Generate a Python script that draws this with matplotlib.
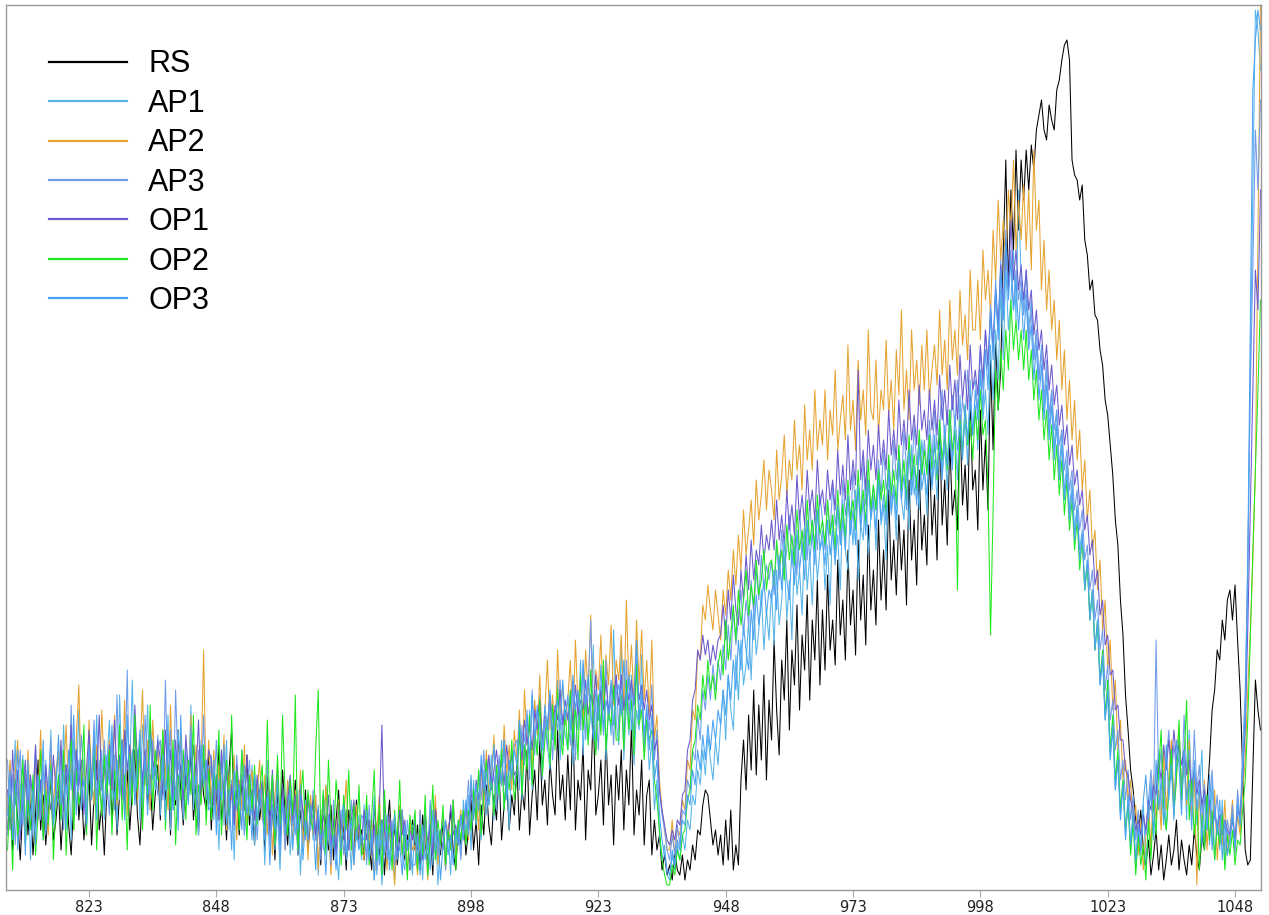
import matplotlib
matplotlib.use('Agg')
import matplotlib.pyplot as plt
import numpy as np

x_start = 807
x_end = 1053
x_step = 0.5
x_ticks = [823, 848, 873, 898, 923, 948, 973, 998, 1023, 1048]

# heights, two values per unit of x (807 .. 1053)
rs = [60, 95, 40, 110, 70, 30, 85, 120, 55, 90, 35, 75, 130, 60, 95, 45, 80, 110, 50, 70,
      100, 40, 85, 125, 65, 35, 90, 140, 70, 105, 50, 80, 115, 45, 95, 130, 60, 85, 35, 100,
      135, 70, 110, 55, 95, 150, 80, 120, 60, 100, 140, 75, 45, 105, 130, 85, 115, 60, 95, 125,
      70, 150, 90, 115, 55, 130, 85, 160, 100, 65, 120, 90, 140, 70, 105, 55, 125, 95, 80, 135,
      60, 110, 85, 145, 70, 95, 50, 120, 160, 75, 100, 55, 115, 80, 135, 65, 90, 45, 105, 70,
      95, 40, 115, 70, 85, 30, 100, 60, 120, 75, 45, 95, 65, 110, 35, 80, 55, 100, 40, 70,
      90, 50, 75, 25, 95, 60, 40, 85, 30, 70, 100, 45, 65, 20, 80, 55, 35, 90, 50, 60,
      30, 75, 45, 20, 85, 55, 35, 70, 15, 60, 90, 40, 65, 25, 50, 80, 30, 55, 20, 70,
      40, 65, 20, 75, 45, 30, 60, 15, 85, 50, 35, 70, 25, 55, 80, 40, 20, 65, 45, 75,
      35, 60, 90, 40, 70, 25, 85, 55, 105, 65, 45, 95, 70, 120, 50, 85, 110, 60, 95, 75,
      125, 60, 100, 80, 140, 55, 95, 120, 70, 150, 85, 110, 65, 130, 95, 75, 160, 90, 115, 70,
      135, 80, 170, 60, 110, 90, 145, 50, 120, 100, 180, 75, 95, 130, 65, 155, 85, 115, 45, 125,
      90, 140, 60, 120, 85, 165, 55, 100, 75, 130, 45, 95, 110, 35, 70, 40, 55, 20, 35, 15,
      25, 10, 40, 20, 15, 35, 10, 30, 20, 45, 30, 60, 55, 85, 100, 95, 70, 45, 60, 35,
      55, 25, 70, 30, 80, 20, 45, 25, 110, 150, 100, 175, 120, 200, 115, 185, 130, 215, 110, 190,
      150, 250, 180, 135, 230, 190, 270, 160, 240, 205, 285, 180, 255, 220, 295, 190, 270, 230, 310, 205,
      280, 220, 315, 240, 270, 225, 330, 255, 290, 230, 340, 265, 300, 235, 350, 270, 315, 245, 365, 280,
      320, 265, 370, 290, 340, 280, 400, 310, 350, 295, 375, 320, 360, 285, 410, 330, 370, 305, 420, 340,
      375, 325, 440, 355, 395, 330, 465, 365, 410, 345, 450, 375, 400, 360, 475, 385, 425, 370, 495, 400,
      420, 360, 480, 400, 450, 380, 530, 440, 555, 480, 520, 640, 730, 600, 700, 640, 740, 660, 730, 690,
      740, 700, 745, 720, 760, 775, 790, 760, 750, 785, 770, 760, 800, 810, 830, 845, 850, 830, 730, 715,
      710, 690, 705, 650, 635, 600, 610, 575, 570, 540, 525, 490, 475, 445, 415, 370, 345, 290, 255, 195,
      160, 120, 100, 70, 55, 80, 40, 25, 50, 15, 35, 60, 20, 45, 10, 30, 55, 25, 40, 70,
      20, 50, 30, 15, 45, 25, 60, 35, 20, 55, 40, 90, 130, 180, 200, 240, 230, 270, 250, 290,
      300, 270, 305, 250, 200, 120, 40, 25, 30, 120, 210, 180, 160]

ap1 = [55, 125, 70, 150, 40, 100, 135, 60, 115, 30, 90, 145, 75, 110, 50, 130, 85, 160, 65, 105,
       140, 70, 165, 95, 120, 50, 150, 105, 180, 80, 130, 60, 155, 110, 85, 175, 95, 140, 70, 125,
       170, 90, 135, 60, 195, 110, 150, 85, 125, 210, 95, 140, 70, 165, 115, 185, 80, 130, 100, 155,
       75, 140, 100, 175, 60, 125, 90, 160, 115, 70, 145, 95, 185, 80, 120, 55, 150, 105, 130, 85,
       135, 70, 115, 40, 130, 95, 150, 60, 105, 30, 120, 85, 140, 55, 100, 75, 125, 45, 110, 80,
       100, 25, 90, 60, 115, 40, 75, 20, 95, 65, 110, 35, 80, 55, 100, 15, 70, 90, 45, 85,
       50, 95, 15, 70, 40, 105, 55, 25, 80, 45, 10, 65, 90, 35, 60, 20, 85, 50, 75, 30,
       85, 25, 70, 40, 95, 15, 60, 5, 50, 75, 30, 65, 10, 55, 80, 35, 20, 70, 45, 15,
       70, 20, 55, 10, 80, 40, 90, 25, 65, 5, 50, 75, 30, 60, 15, 85, 45, 70, 35, 90,
       55, 95, 40, 110, 65, 85, 50, 120, 75, 100, 135, 70, 115, 90, 150, 80, 125, 60, 140, 105,
       120, 165, 90, 145, 125, 180, 100, 160, 135, 195, 110, 170, 145, 120, 185, 150, 210, 130, 175, 155,
       140, 200, 125, 180, 160, 230, 135, 195, 150, 175, 245, 140, 190, 165, 215, 130, 185, 155, 260, 170,
       145, 250, 130, 190, 155, 215, 125, 180, 160, 235, 140, 170, 120, 150, 80, 110, 55, 30, 45, 15,
       10, 35, 20, 45, 30, 55, 40, 70, 60, 95, 85, 120, 105, 140, 115, 155, 130, 110, 150, 125,
       165, 200, 150, 215, 180, 160, 235, 190, 250, 205, 225, 270, 210, 285, 235, 260, 300, 240, 280, 250,
       300, 245, 320, 265, 290, 335, 270, 310, 250, 345, 295, 320, 275, 360, 300, 335, 285, 355, 310, 340,
       360, 300, 345, 285, 375, 330, 355, 300, 390, 340, 320, 380, 345, 400, 310, 365, 350, 410, 335, 375,
       395, 340, 420, 365, 385, 330, 430, 375, 400, 350, 440, 390, 370, 425, 360, 445, 395, 415, 380, 450,
       420, 375, 455, 400, 430, 390, 470, 415, 445, 400, 480, 430, 460, 410, 495, 440, 470, 425, 510, 455,
       485, 440, 520, 470, 500, 455, 545, 490, 560, 510, 600, 530, 625, 560, 590, 640, 570, 700, 610, 580,
       620, 560, 590, 530, 560, 510, 545, 480, 520, 460, 500, 440, 480, 420, 460, 395, 430, 380, 410, 360,
       385, 340, 360, 300, 330, 270, 300, 240, 265, 205, 230, 170, 195, 135, 160, 100, 130, 75, 110, 55,
       90, 40, 75, 20, 60, 35, 85, 25, 70, 110, 50, 95, 140, 75, 120, 60, 100, 135, 80, 115,
       150, 90, 130, 70, 160, 100, 120, 65, 95, 140, 55, 85, 45, 110, 30, 70, 40, 90, 25, 60,
       45, 80, 35, 95, 60, 130, 180, 310, 520, 700, 880, 860, 820]

ap2 = [80, 130, 60, 115, 150, 75, 105, 45, 140, 90, 65, 125, 95, 160, 70, 110, 55, 135, 85, 120,
       140, 80, 115, 165, 90, 130, 60, 150, 205, 100, 125, 75, 170, 110, 85, 145, 95, 180, 120, 90,
       150, 100, 175, 85, 130, 110, 190, 75, 145, 120, 165, 90, 135, 200, 105, 150, 80, 170, 115, 140,
       95, 160, 120, 80, 185, 105, 140, 70, 155, 110, 130, 90, 175, 100, 145, 75, 120, 240, 95, 150,
       85, 140, 70, 125, 95, 155, 60, 115, 90, 135, 50, 110, 80, 145, 65, 100, 120, 70, 95, 130,
       70, 115, 55, 100, 35, 95, 125, 60, 90, 40, 110, 75, 50, 100, 65, 120, 45, 85, 30, 95,
       55, 95, 20, 80, 45, 105, 65, 15, 75, 50, 90, 35, 70, 110, 40, 60, 25, 85, 55, 45,
       30, 85, 50, 70, 10, 60, 95, 40, 65, 20, 75, 45, 5, 55, 85, 35, 60, 15, 70, 40,
       45, 15, 80, 35, 60, 10, 70, 40, 95, 25, 55, 75, 20, 65, 45, 90, 30, 60, 80, 50,
       85, 50, 110, 70, 95, 60, 125, 80, 140, 95, 110, 155, 90, 130, 105, 165, 115, 145, 100, 160,
       130, 180, 115, 200, 145, 170, 120, 190, 155, 215, 140, 180, 230, 160, 195, 150, 240, 175, 205, 165,
       190, 230, 160, 250, 185, 210, 165, 240, 195, 275, 175, 220, 200, 255, 180, 235, 205, 265, 185, 230,
       210, 255, 180, 290, 200, 245, 185, 270, 205, 260, 190, 230, 175, 250, 150, 175, 110, 80, 60, 40,
       40, 70, 35, 60, 55, 90, 80, 130, 120, 180, 170, 240, 230, 285, 270, 305, 280, 260, 300, 275,
       250, 300, 275, 320, 290, 340, 305, 355, 320, 380, 335, 360, 390, 345, 410, 370, 395, 430, 380, 420,
       400, 370, 440, 390, 415, 455, 395, 430, 410, 470, 420, 445, 400, 485, 430, 460, 420, 500, 440, 470,
       445, 500, 430, 480, 455, 520, 440, 470, 495, 450, 545, 460, 490, 440, 530, 470, 500, 455, 560, 480,
       470, 530, 455, 500, 480, 550, 475, 510, 460, 540, 495, 580, 480, 520, 470, 560, 500, 530, 485, 545,
       500, 560, 490, 520, 545, 505, 580, 515, 550, 500, 590, 530, 560, 515, 600, 545, 575, 530, 620, 560,
       560, 610, 550, 640, 590, 620, 575, 660, 610, 690, 630, 670, 620, 700, 660, 730, 640, 690, 650, 705,
       640, 700, 620, 740, 660, 690, 600, 650, 580, 620, 560, 590, 530, 570, 500, 540, 470, 510, 450, 490,
       430, 460, 400, 430, 370, 400, 340, 360, 300, 330, 260, 290, 220, 250, 180, 210, 140, 170, 110, 130,
       90, 110, 60, 85, 35, 70, 20, 55, 90, 40, 115, 70, 100, 60, 140, 80, 115, 150, 90, 125,
       165, 100, 140, 85, 150, 70, 120, 5, 95, 60, 110, 40, 85, 55, 100, 30, 70, 45, 90, 35,
       60, 90, 40, 75, 55, 100, 130, 200, 260, 330, 420, 650, 885]

ap3 = [130, 70, 115, 45, 100, 140, 65, 120, 80, 110, 55, 135, 90, 70, 125, 60, 105, 150, 75, 100,
       85, 140, 60, 125, 90, 185, 70, 135, 100, 155, 115, 80, 145, 105, 170, 90, 130, 75, 150, 110,
       75, 155, 110, 195, 90, 140, 100, 220, 85, 130, 160, 105, 145, 80, 175, 120, 95, 150, 115, 140,
       150, 90, 210, 100, 160, 80, 200, 120, 145, 75, 130, 95, 165, 110, 85, 140, 100, 175, 90, 125,
       120, 95, 150, 70, 140, 65, 125, 80, 110, 60, 135, 90, 115, 55, 100, 130, 75, 105, 50, 95,
       105, 70, 130, 45, 100, 60, 120, 55, 95, 40, 85, 110, 65, 90, 35, 105, 75, 50, 95, 60,
       100, 50, 85, 30, 95, 45, 75, 25, 90, 40, 65, 80, 35, 70, 55, 90, 30, 60, 45, 75,
       70, 30, 85, 45, 60, 20, 75, 40, 90, 30, 55, 70, 25, 60, 40, 80, 35, 50, 20, 65,
       60, 25, 80, 40, 65, 15, 85, 45, 75, 35, 55, 70, 20, 60, 40, 90, 50, 65, 30, 75,
       75, 110, 60, 95, 70, 120, 90, 140, 85, 130, 100, 115, 80, 135, 105, 150, 95, 125, 110, 145,
       150, 100, 165, 125, 180, 110, 200, 135, 185, 150, 125, 170, 140, 195, 130, 175, 160, 210, 145, 180,
       175, 145, 210, 130, 195, 160, 225, 150, 200, 270, 165, 185, 140, 205, 155, 230, 170, 190, 145, 215,
       160, 215, 140, 230, 175, 200, 150, 240, 165, 195, 145, 180, 160, 205, 130, 160, 100, 75, 60, 40,
       30, 55, 35, 65, 45, 80, 75, 110, 100, 140, 130, 175, 150, 200, 180, 215, 190, 225, 200, 230,
       210, 245, 220, 265, 230, 280, 245, 270, 300, 255, 290, 265, 310, 275, 320, 290, 335, 300, 325, 310,
       330, 295, 345, 310, 360, 320, 340, 375, 325, 355, 315, 380, 340, 365, 330, 390, 350, 375, 340, 395,
       370, 340, 390, 355, 405, 365, 385, 350, 410, 375, 395, 360, 420, 380, 400, 365, 430, 385, 410, 375,
       405, 380, 430, 395, 440, 400, 420, 390, 450, 410, 435, 400, 460, 420, 445, 405, 465, 425, 450, 415,
       450, 420, 470, 430, 480, 440, 465, 500, 445, 480, 455, 495, 465, 510, 460, 490, 470, 520, 480, 500,
       510, 480, 540, 500, 560, 520, 585, 540, 610, 560, 630, 570, 660, 600, 640, 580, 620, 590, 610, 575,
       600, 550, 580, 530, 560, 510, 540, 490, 530, 475, 500, 460, 480, 445, 460, 420, 440, 400, 420, 380,
       400, 360, 380, 330, 345, 300, 320, 270, 290, 240, 260, 200, 225, 170, 190, 140, 160, 110, 130, 90,
       120, 70, 95, 50, 80, 40, 75, 55, 90, 120, 85, 250, 110, 140, 95, 130, 160, 110, 145, 120,
       150, 100, 175, 120, 140, 85, 160, 100, 125, 75, 105, 60, 90, 120, 70, 95, 50, 80, 40, 70,
       55, 85, 45, 100, 70, 140, 200, 330, 500, 620, 760, 700, 790]

op1 = [100, 60, 140, 85, 120, 50, 105, 130, 75, 115, 90, 145, 70, 110, 55, 125, 95, 80, 135, 100,
       95, 150, 80, 125, 110, 165, 90, 140, 105, 130, 75, 120, 160, 95, 135, 110, 175, 100, 125, 90,
       145, 100, 170, 115, 135, 90, 160, 120, 145, 100, 185, 125, 150, 110, 140, 95, 165, 130, 115, 150,
       130, 95, 160, 110, 140, 85, 150, 105, 125, 90, 155, 120, 100, 145, 115, 170, 95, 130, 110, 140,
       130, 85, 115, 70, 140, 90, 120, 75, 105, 65, 125, 95, 110, 80, 135, 90, 100, 70, 115, 85,
       110, 75, 95, 60, 120, 70, 85, 50, 105, 65, 90, 115, 70, 95, 55, 100, 80, 60, 90, 70,
       90, 55, 80, 40, 75, 60, 95, 45, 70, 35, 85, 65, 50, 80, 40, 70, 90, 55, 65, 45,
       80, 50, 70, 35, 65, 45, 80, 165, 60, 40, 75, 50, 65, 35, 80, 55, 70, 40, 60, 50,
       70, 40, 60, 30, 75, 45, 65, 35, 80, 50, 60, 40, 70, 50, 85, 55, 65, 45, 75, 60,
       85, 60, 100, 75, 110, 90, 125, 95, 115, 135, 100, 120, 140, 110, 130, 105, 145, 120, 135, 115,
       120, 155, 130, 170, 145, 165, 140, 180, 160, 190, 150, 175, 165, 195, 155, 185, 170, 200, 165, 190,
       170, 195, 165, 205, 175, 190, 180, 210, 175, 195, 185, 215, 170, 200, 180, 210, 175, 205, 190, 215,
       185, 215, 180, 205, 190, 210, 185, 220, 190, 205, 180, 200, 170, 185, 140, 150, 100, 80, 65, 50,
       45, 60, 50, 70, 65, 95, 100, 140, 150, 190, 200, 240, 230, 255, 235, 250, 225, 245, 230, 250,
       255, 285, 250, 300, 270, 315, 280, 265, 320, 290, 335, 300, 350, 310, 340, 325, 365, 330, 355, 340,
       370, 340, 390, 350, 375, 345, 400, 360, 385, 355, 415, 370, 395, 365, 420, 380, 400, 370, 430, 385,
       400, 375, 420, 390, 410, 380, 440, 395, 425, 390, 455, 400, 430, 405, 520, 410, 440, 400, 460, 420,
       445, 410, 465, 425, 450, 420, 480, 435, 460, 430, 490, 445, 470, 440, 500, 450, 475, 445, 505, 460,
       480, 450, 500, 460, 490, 455, 515, 470, 500, 465, 525, 480, 510, 470, 535, 490, 520, 480, 545, 500,
       520, 495, 545, 510, 560, 525, 580, 540, 600, 560, 625, 580, 650, 600, 670, 610, 640, 600, 625, 590,
       620, 580, 600, 555, 580, 540, 560, 520, 545, 500, 525, 485, 505, 465, 485, 445, 465, 425, 445, 405,
       420, 385, 400, 360, 375, 335, 350, 305, 320, 275, 290, 245, 255, 215, 220, 180, 185, 150, 150, 120,
       115, 90, 80, 60, 70, 55, 75, 60, 90, 80, 105, 95, 130, 110, 145, 120, 150, 125, 160, 130,
       145, 125, 140, 115, 130, 100, 120, 95, 110, 85, 100, 75, 90, 65, 80, 60, 75, 55, 70, 60,
       55, 70, 50, 80, 75, 110, 160, 260, 380, 500, 620, 580, 700]

op2 = [40, 95, 20, 110, 55, 80, 130, 45, 90, 60, 115, 35, 75, 140, 50, 100, 65, 125, 30, 85,
       115, 70, 140, 35, 95, 150, 60, 120, 85, 105, 165, 55, 125, 90, 145, 40, 110, 75, 135, 95,
       140, 55, 120, 90, 165, 70, 115, 40, 135, 85, 175, 100, 150, 60, 125, 95, 185, 80, 140, 110,
       110, 160, 60, 125, 80, 150, 45, 115, 90, 140, 70, 130, 95, 175, 55, 105, 85, 145, 65, 120,
       70, 120, 100, 160, 55, 105, 130, 75, 175, 85, 120, 60, 140, 95, 50, 115, 80, 125, 65, 100,
       125, 60, 170, 80, 115, 45, 135, 65, 175, 95, 55, 110, 75, 195, 40, 90, 120, 55, 100, 70,
       60, 140, 200, 55, 100, 35, 130, 70, 45, 110, 80, 25, 95, 60, 120, 40, 85, 50, 105, 35,
       40, 95, 25, 75, 120, 30, 85, 15, 100, 50, 65, 20, 80, 45, 110, 35, 60, 10, 75, 55,
       80, 20, 65, 35, 95, 15, 50, 105, 30, 70, 45, 85, 25, 60, 40, 90, 20, 70, 50, 80,
       45, 80, 60, 100, 70, 120, 55, 95, 130, 85, 110, 75, 125, 95, 140, 80, 115, 100, 150, 90,
       110, 165, 95, 145, 120, 175, 105, 160, 135, 190, 115, 150, 170, 125, 185, 140, 200, 155, 135, 180,
       140, 200, 150, 185, 130, 215, 160, 190, 145, 220, 170, 135, 195, 155, 230, 140, 180, 165, 205, 150,
       150, 195, 140, 210, 160, 190, 135, 225, 165, 180, 130, 170, 150, 160, 110, 90, 60, 30, 15, 5,
       5, 25, 15, 40, 30, 55, 60, 90, 100, 140, 150, 185, 170, 215, 190, 230, 200, 215, 190, 225,
       240, 215, 270, 230, 255, 285, 250, 300, 265, 290, 320, 275, 305, 285, 330, 295, 310, 340, 300, 325,
       330, 305, 350, 320, 340, 310, 365, 330, 355, 325, 380, 340, 360, 330, 390, 345, 370, 340, 395, 355,
       370, 345, 390, 355, 375, 340, 400, 360, 385, 350, 410, 370, 390, 360, 420, 375, 400, 365, 430, 380,
       405, 380, 420, 390, 410, 375, 435, 395, 420, 385, 445, 400, 430, 390, 455, 410, 435, 400, 460, 415,
       440, 415, 455, 420, 445, 410, 470, 430, 455, 420, 480, 440, 460, 300, 470, 435, 485, 445, 470, 430,
       480, 450, 500, 455, 470, 400, 255, 380, 520, 480, 540, 500, 560, 520, 590, 540, 570, 530, 560, 520,
       560, 510, 540, 490, 520, 470, 500, 450, 480, 430, 465, 410, 445, 395, 430, 375, 410, 360, 390, 340,
       370, 320, 350, 300, 325, 270, 300, 240, 270, 210, 240, 175, 210, 140, 175, 110, 140, 80, 110, 60,
       85, 35, 70, 15, 55, 25, 45, 10, 70, 30, 90, 55, 120, 160, 80, 60, 100, 140, 75, 110,
       170, 90, 130, 190, 70, 110, 55, 90, 20, 75, 40, 95, 50, 80, 30, 65, 45, 75, 20, 55,
       35, 60, 25, 50, 45, 80, 110, 170, 250, 340, 420, 500, 590]

op3 = [75, 120, 50, 95, 140, 60, 105, 35, 130, 70, 100, 45, 115, 80, 150, 55, 90, 120, 65, 100,
       155, 85, 120, 60, 140, 100, 175, 75, 130, 95, 110, 65, 145, 90, 160, 70, 125, 105, 80, 135,
       105, 165, 80, 130, 95, 150, 70, 175, 100, 140, 85, 120, 160, 90, 135, 75, 155, 110, 125, 95,
       95, 135, 70, 155, 110, 80, 140, 60, 175, 100, 125, 85, 150, 95, 115, 70, 145, 105, 130, 80,
       85, 130, 55, 110, 90, 145, 65, 100, 40, 120, 80, 105, 60, 125, 75, 95, 50, 115, 70, 100,
       80, 50, 95, 25, 85, 60, 110, 35, 90, 55, 75, 100, 40, 80, 60, 95, 30, 70, 50, 85,
       70, 20, 80, 45, 60, 15, 75, 35, 55, 20, 65, 40, 85, 30, 50, 70, 25, 60, 40, 55,
       50, 80, 30, 60, 10, 55, 25, 70, 35, 60, 20, 50, 75, 30, 45, 15, 65, 40, 55, 25,
       25, 55, 15, 65, 30, 50, 20, 80, 40, 60, 10, 45, 70, 35, 55, 25, 60, 45, 75, 50,
       90, 55, 115, 70, 105, 80, 135, 100, 120, 85, 110, 145, 95, 125, 105, 150, 90, 130, 115, 140,
       125, 170, 140, 150, 175, 130, 195, 150, 180, 165, 140, 185, 160, 200, 150, 175, 190, 160, 210, 170,
       195, 160, 215, 180, 200, 170, 230, 185, 215, 180, 150, 200, 170, 225, 160, 190, 175, 210, 165, 195,
       205, 175, 230, 185, 215, 160, 195, 250, 170, 200, 155, 185, 140, 175, 110, 130, 75, 50, 35, 20,
       15, 40, 25, 50, 40, 70, 65, 95, 85, 120, 105, 140, 120, 155, 130, 165, 140, 170, 150, 180,
       165, 200, 175, 215, 190, 230, 200, 250, 220, 265, 240, 220, 280, 250, 295, 265, 285, 310, 275, 300,
       290, 320, 280, 335, 300, 350, 310, 290, 340, 305, 360, 320, 345, 310, 370, 330, 355, 325, 380, 340,
       350, 325, 370, 335, 360, 325, 385, 345, 370, 340, 395, 355, 380, 345, 405, 360, 390, 355, 410, 370,
       390, 360, 410, 370, 395, 365, 420, 380, 405, 370, 430, 390, 415, 380, 440, 395, 425, 385, 445, 400,
       420, 395, 440, 405, 455, 415, 445, 410, 465, 425, 455, 420, 475, 440, 465, 430, 485, 450, 490, 455,
       500, 470, 520, 480, 540, 500, 580, 530, 600, 550, 620, 570, 650, 590, 630, 580, 610, 560, 600, 550,
       590, 540, 565, 510, 545, 490, 525, 470, 505, 450, 485, 430, 465, 410, 445, 390, 420, 370, 400, 350,
       380, 330, 355, 300, 330, 270, 300, 240, 270, 205, 235, 170, 200, 130, 165, 100, 130, 70, 105, 50,
       95, 45, 80, 30, 65, 40, 90, 115, 70, 100, 55, 130, 80, 110, 65, 145, 90, 125, 70, 150,
       125, 75, 140, 90, 110, 60, 130, 80, 105, 45, 95, 60, 115, 40, 85, 55, 90, 30, 70, 35,
       50, 75, 40, 85, 65, 120, 170, 330, 560, 800, 850, 880, 860]

names = ['RS', 'AP1', 'AP2', 'AP3', 'OP1', 'OP2', 'OP3']
colors = ['#000000', '#56B4E9', '#E6A330', '#6F9BEA', '#6A5ACD', '#1EE81E', '#4AA2F2']
series = [rs, ap1, ap2, ap3, op1, op2, op3]

x = np.arange(x_start, x_end + x_step / 2, x_step)
for n, s in zip(names, series):
    if len(s) != len(x):
        print(n, len(s), len(x))

fig = plt.figure(figsize=(12.69, 9.15), dpi=100)
ax = fig.add_axes([6 / 1269, 25 / 915, 1255 / 1269, 885 / 915])

for name, y, c in zip(names, series, colors):
    ax.plot(x, y, color=c, lw=0.75, label=name)

ax.set_xlim(806.7, 1053.1)
ax.set_ylim(0, 885)
ax.set_xticks(x_ticks)
ax.set_yticks([])
ax.tick_params(axis='x', length=5, color='#aaaaaa', labelsize=10.5, labelcolor='#222222', pad=2)
for s in ax.spines.values():
    s.set_color('#999999')
    s.set_linewidth(1.0)

leg = ax.legend(loc='upper left', bbox_to_anchor=(43 / 1255, 0.950), frameon=False,
                borderpad=0, borderaxespad=0, handlelength=2.55, handletextpad=0.7,
                labelspacing=0.31, prop={'family': 'Liberation Sans', 'size': 22})
for h in leg.get_lines():
    h.set_linewidth(1.6)

fig.savefig('out.png', dpi=100)
